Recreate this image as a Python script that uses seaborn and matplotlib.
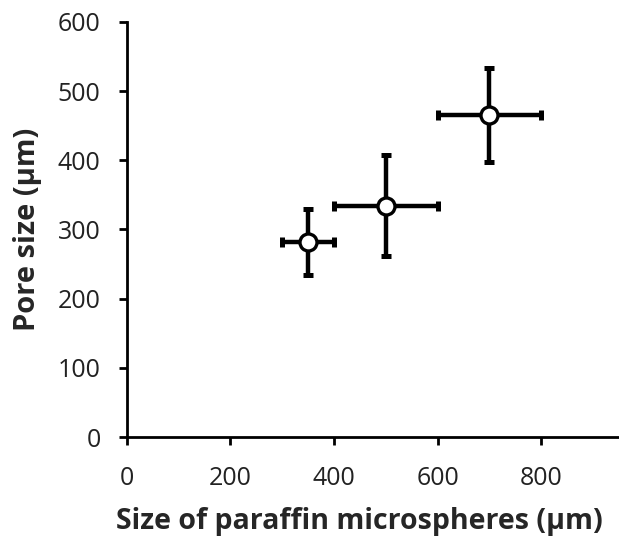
import matplotlib
matplotlib.use("Agg")
import matplotlib.pyplot as plt
import seaborn as sns
import pandas as pd

microsphere_size = [350, 500, 700]
pore_size = [282, 334, 465]
x_err = [50, 100, 100]
y_err = [48, 73, 68]
x_ticks = [0, 200, 400, 600, 800]
y_ticks = [0, 100, 200, 300, 400, 500, 600]

df = pd.DataFrame({"x": microsphere_size, "y": pore_size, "xe": x_err, "ye": y_err})

sns.set_style("ticks")
plt.rcParams['font.family'] = ['Open Sans', 'DejaVu Sans']

fig = plt.figure(figsize=(6.19, 5.45), dpi=100)
ax = fig.add_axes([0.205, 0.198, 0.795, 0.762])

ax.errorbar(df["x"], df["y"], xerr=df["xe"], yerr=df["ye"], fmt="none",
            ecolor="black", elinewidth=3.2, capsize=3.4, capthick=3.6, zorder=2)
sns.scatterplot(data=df, x="x", y="y", ax=ax, s=150, color="white",
                edgecolor="black", linewidth=2.4, zorder=3, legend=False)

ax.set_xlim(0, 950)
ax.set_ylim(0, 600)
ax.set_xticks(x_ticks)
ax.set_yticks(y_ticks)
ax.tick_params(axis="both", direction="out", length=6, width=2, labelsize=18, colors="black")
ax.tick_params(axis="x", pad=15)
ax.tick_params(axis="y", pad=13)
for t in ax.get_xticklabels() + ax.get_yticklabels():
    t.set_color("#222222")
for s in ["top", "right"]:
    ax.spines[s].set_visible(False)
for s in ["left", "bottom"]:
    ax.spines[s].set_linewidth(2)
    ax.spines[s].set_color("black")

ax.set_xlabel("Size of paraffin microspheres (µm)", fontsize=20.5, fontweight="bold", labelpad=11)
ax.xaxis.label.set_x(0.472)
ax.set_ylabel("Pore size (µm)", fontsize=21, fontweight="bold", labelpad=11)

fig.savefig("out.png", dpi=100)
